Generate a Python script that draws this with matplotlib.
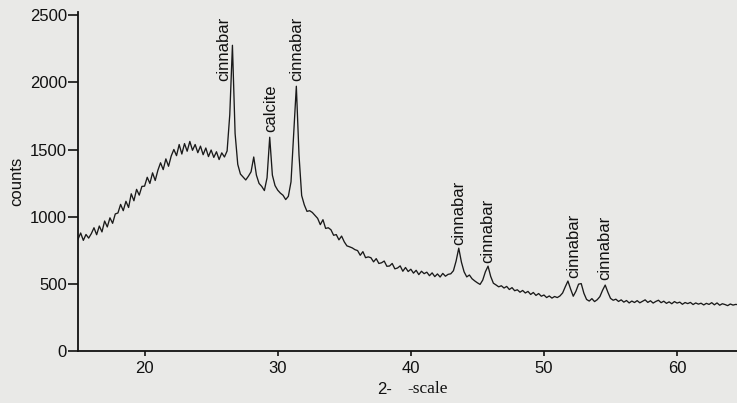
import matplotlib
matplotlib.use("Agg")
import matplotlib.pyplot as plt
import numpy as np

# step scan, 0.2 deg steps from 15.0 to 64.6 (2-theta)
two_theta = np.round(np.arange(15.0, 64.61, 0.2), 1)

counts = [
    832, 879, 824, 868, 841,        # 15
    874, 918, 866, 931, 887,        # 16
    968, 924, 992, 951, 1021,       # 17
    1028, 1092, 1045, 1115, 1069,   # 18
    1171, 1119, 1204, 1161, 1226,   # 19
    1228, 1294, 1248, 1327, 1270,   # 20
    1346, 1402, 1351, 1431, 1376,   # 21
    1452, 1501, 1455, 1538, 1467,   # 22
    1545, 1488, 1561, 1495, 1538,   # 23
    1477, 1526, 1462, 1512, 1448,   # 24
    1497, 1442, 1484, 1426, 1476,   # 25
    1445, 1490, 1760, 2277, 1620,   # 26
    1390, 1318, 1296, 1274, 1302,   # 27
    1335, 1445, 1310, 1248, 1226,   # 28
    1195, 1290, 1592, 1310, 1232,   # 29
    1198, 1176, 1160, 1128, 1152,   # 30
    1260, 1610, 1972, 1460, 1158,   # 31
    1088, 1040, 1045, 1032, 1010,   # 32
    988, 941, 978, 913, 918,        # 33
    903, 862, 867, 828, 856,        # 34
    813, 783, 776, 768, 755,        # 35
    748, 713, 740, 695, 701,        # 36
    695, 664, 688, 652, 657,        # 37
    670, 631, 633, 652, 612,        # 38
    618, 634, 594, 622, 592,        # 39
    609, 580, 601, 569, 594,        # 40
    576, 587, 561, 582, 554,        # 41
    574, 551, 578, 557, 571,        # 42
    575, 598, 670, 766, 662,        # 43
    590, 552, 566, 538, 522,        # 44
    508, 496, 528, 590, 632,        # 45
    555, 505, 492, 478, 486,        # 46
    469, 481, 458, 472, 449,        # 47
    456, 438, 451, 432, 444,        # 48
    421, 436, 414, 428, 408,        # 49
    417, 398, 410, 394, 406,        # 50
    398, 410, 432, 478, 521,        # 51
    462, 408, 445, 498, 502,        # 52
    430, 384, 372, 390, 368,        # 53
    382, 405, 452, 491, 438,        # 54
    392, 378, 386, 369, 381,        # 55
    364, 376, 358, 372, 361,        # 56
    375, 359, 370, 381, 362,        # 57
    374, 357, 369, 378, 360,        # 58
    371, 355, 366, 352, 368,        # 59
    357, 364, 348, 361, 353,        # 60
    362, 346, 358, 349, 356,        # 61
    343, 355, 347, 360, 344,        # 62
    358, 341, 352, 346, 338,        # 63
    350, 342, 347, 345,             # 64
]

# peak labels: position (2-theta) and height of the label's lower end
peak_names = ["cinnabar", "calcite", "cinnabar", "cinnabar", "cinnabar", "cinnabar", "cinnabar"]
peak_pos = [25.95, 29.45, 31.45, 43.6, 45.8, 52.25, 54.6]
peak_base = [2010, 1630, 2010, 790, 655, 545, 528]

bg = "#e9e9e7"
ink = "#111111"
sans = "Liberation Sans"

fig = plt.figure(figsize=(7.37, 4.03), dpi=100, facecolor=bg)
ax = fig.add_axes([78 / 737, 52 / 403, 659 / 737, 339 / 403])
ax.set_facecolor(bg)

ax.plot(two_theta, counts, color="#1a1a1a", linewidth=0.95)

for name, x, y in zip(peak_names, peak_pos, peak_base):
    ax.text(x, y, name, rotation=90, ha="center", va="bottom",
            fontsize=12, family=sans, color=ink)

ax.set_xlim(15, 64.5)
ax.set_ylim(0, 2525)
ax.set_xticks([20, 30, 40, 50, 60])
ax.set_yticks([0, 500, 1000, 1500, 2000, 2500])

for s in ["top", "right"]:
    ax.spines[s].set_visible(False)
for s in ["left", "bottom"]:
    ax.spines[s].set_linewidth(1.3)
    ax.spines[s].set_color(ink)

ax.tick_params(axis="y", direction="out", length=7, width=1.2, pad=1,
               labelsize=12, colors=ink)
ax.tick_params(axis="x", direction="out", length=3.5, width=1.2, pad=4,
               labelsize=12, colors=ink)
for lab in ax.get_xticklabels() + ax.get_yticklabels():
    lab.set_family(sans)

ax.set_ylabel("counts", fontsize=12, family=sans, labelpad=4, color=ink)

# x label: "2-" in sans, "-scale" in serif (theta lost in the original)
fig.text(385 / 737, 1 - 390 / 403, "2-", fontsize=12, family=sans,
         ha="center", va="center", color=ink)
fig.text(428 / 737, 1 - 389 / 403, "-scale", fontsize=12.5, family="Liberation Serif",
         ha="center", va="center", color=ink)

fig.savefig("out.png", dpi=100, facecolor=bg)
